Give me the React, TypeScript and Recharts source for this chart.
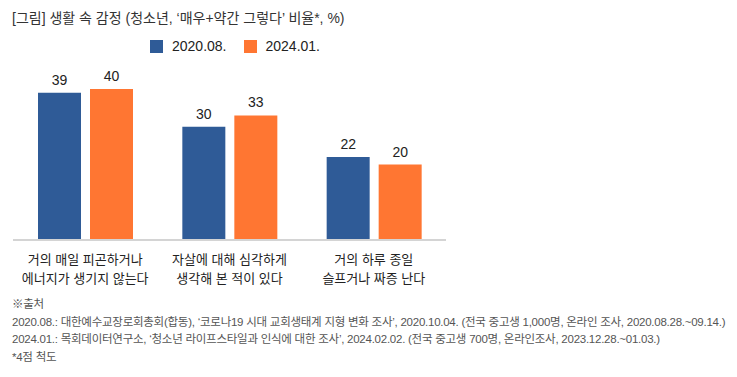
import React from 'react';
import { BarChart, Bar, XAxis, YAxis, LabelList } from 'recharts';

const categories = ['거의 매일 피곤하거나\n에너지가 생기지 않는다', '자살에 대해 심각하게\n생각해 본 적이 있다', '거의 하루 종일\n슬프거나 짜증 난다'];
const series2020 = [39, 30, 22];
const series2024 = [40, 33, 20];
const seriesNames = ['2020.08.', '2024.01.'];
const colors = ['#2f5b97', '#ff7632'];

const title = "[그림] 생활 속 감정 (청소년, ‘매우+약간 그렇다’ 비율*, %)";
const notes = [
  '※출처',
  '2020.08.: 대한예수교장로회총회(합동), ‘코로나19 시대 교회생태계 지형 변화 조사’, 2020.10.04. (전국 중고생 1,000명, 온라인 조사, 2020.08.28.~09.14.)',
  '2024.01.: 목회데이터연구소, ‘청소년 라이프스타일과 인식에 대한 조사’, 2024.02.02. (전국 중고생 700명, 온라인조사, 2023.12.28.~01.03.)',
  '*4점 척도',
];

const data = categories.map((c, i) => ({ name: c, a: series2020[i], b: series2024[i] }));

const font = '"Liberation Sans", Arial, "Noto Sans CJK KR", sans-serif';

const CatTick = ({ x, y, payload }: any) => {
  const lines = String(payload.value).split('\n');
  return (
    <g transform={`translate(${x},${y})`}>
      {lines.map((l, i) => (
        <text key={i} x={0} y={16 + i * 19} textAnchor="middle" fontSize={13} fill="#222" fontFamily={font}>
          {l}
        </text>
      ))}
    </g>
  );
};

export default function App() {
  return (
    <div style={{ position: 'absolute', left: 0, top: 0, width: 737, height: 377, background: '#fff', fontFamily: font }}>
      <div style={{ position: 'absolute', left: 12, top: 7, fontSize: 14, color: '#333', whiteSpace: 'nowrap' }}>{title}</div>

      {/* legend */}
      <div style={{ position: 'absolute', left: 150, top: 38, display: 'flex', alignItems: 'center', fontSize: 14, color: '#222' }}>
        {seriesNames.map((s, i) => (
          <div key={s} style={{ display: 'flex', alignItems: 'center', marginRight: 17 }}>
            <span style={{ width: 13, height: 13, background: colors[i], display: 'inline-block', marginRight: 9 }} />
            <span>{s}</span>
          </div>
        ))}
      </div>

      <div style={{ position: 'absolute', left: 0, top: 0 }}>
        <BarChart width={460} height={292} data={data} margin={{ top: 89, right: 14, bottom: 0, left: 13 }} barSize={43} barGap={9}>
          <YAxis hide domain={[0, 40]} />
          <XAxis dataKey="name" tickLine={false} axisLine={{ stroke: '#d4d4d4', strokeWidth: 2 }} tick={<CatTick />} height={52} interval={0} />
          <Bar dataKey="a" fill={colors[0]} isAnimationActive={false}>
            <LabelList dataKey="a" position="top" offset={8} fontSize={14} fill="#222" fontFamily={font} />
          </Bar>
          <Bar dataKey="b" fill={colors[1]} isAnimationActive={false}>
            <LabelList dataKey="b" position="top" offset={8} fontSize={14} fill="#222" fontFamily={font} />
          </Bar>
        </BarChart>
      </div>

      <div style={{ position: 'absolute', left: 12, top: 296, fontSize: 11.5, color: '#555', lineHeight: '17.5px', letterSpacing: -0.25, whiteSpace: 'nowrap' }}>
        {notes.map((n) => (
          <div key={n}>{n}</div>
        ))}
      </div>
    </div>
  );
}
